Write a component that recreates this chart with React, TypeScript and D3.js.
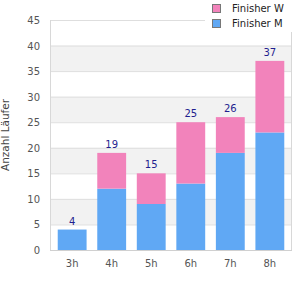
import { useEffect, useRef } from 'react';
import * as d3 from 'd3';

const categories = ['3h', '4h', '5h', '6h', '7h', '8h'];
const finisherM = [4, 12, 9, 13, 19, 23];
const finisherW = [0, 7, 6, 12, 7, 14];
const yTicks = [0, 5, 10, 15, 20, 25, 30, 35, 40, 45];

const colorM = '#60a8f4';
const colorW = '#f283bb';

export default function App() {
  const svgRef = useRef<SVGSVGElement>(null);

  useEffect(() => {
    if (!svgRef.current) return;
    const svg = d3.select(svgRef.current);
    svg.selectAll('*').remove();

    const left = 51, right = 291, top = 20, bottom = 250;
    const font = '"DejaVu Sans", Verdana, sans-serif';

    const x = d3.scaleBand<string>().domain(categories).range([left, right]).paddingInner(0.27).paddingOuter(0.17);
    const y = d3.scaleLinear().domain([0, 45]).range([bottom, top]);

    // alternating bands
    for (let i = 0; i < yTicks.length - 1; i++) {
      if (i % 2 === 1) {
        svg.append('rect')
          .attr('x', left).attr('y', y(yTicks[i + 1]))
          .attr('width', right - left).attr('height', y(yTicks[i]) - y(yTicks[i + 1]))
          .attr('fill', '#f2f2f2');
      }
    }

    // grid lines
    svg.selectAll('line.grid')
      .data(yTicks.slice(1))
      .enter().append('line')
      .attr('x1', left).attr('x2', right)
      .attr('y1', d => y(d) + 0.5).attr('y2', d => y(d) + 0.5)
      .attr('stroke', '#dedede');

    // borders
    svg.append('line').attr('x1', left - 0.5).attr('x2', left - 0.5).attr('y1', top).attr('y2', bottom)
      .attr('stroke', '#d8d8d8');
    svg.append('line').attr('x1', right + 0.5).attr('x2', right + 0.5).attr('y1', top).attr('y2', bottom + 1)
      .attr('stroke', '#d8d8d8');
    svg.append('line').attr('x1', left - 1).attr('x2', right + 1).attr('y1', bottom + 0.5).attr('y2', bottom + 0.5)
      .attr('stroke', '#d0d0d0');

    // stacked bars
    const rows = categories.map((c, i) => ({ cat: c, m: finisherM[i], w: finisherW[i] }));
    const stack = d3.stack<{ cat: string; m: number; w: number }>().keys(['m', 'w'])(rows);
    const colors = [colorM, colorW];
    stack.forEach((layer, li) => {
      svg.selectAll(`rect.layer-${li}`)
        .data(layer)
        .enter().append('rect')
        .attr('x', d => x(d.data.cat)!)
        .attr('width', x.bandwidth())
        .attr('y', d => y(d[1]))
        .attr('height', d => y(d[0]) - y(d[1]))
        .attr('fill', colors[li]);
    });

    // totals
    svg.selectAll('text.total')
      .data(rows)
      .enter().append('text')
      .attr('x', d => x(d.cat)! + x.bandwidth() / 2)
      .attr('y', d => y(d.m + d.w) - 5)
      .attr('text-anchor', 'middle')
      .attr('font-family', font).attr('font-size', 10)
      .attr('fill', '#1f1f8f')
      .text(d => d.m + d.w);

    // y tick labels
    svg.selectAll('text.ytick')
      .data(yTicks)
      .enter().append('text')
      .attr('x', 40).attr('y', d => y(d) + 4)
      .attr('text-anchor', 'end')
      .attr('font-family', font).attr('font-size', 10)
      .attr('fill', '#555')
      .text(d => d);

    // x tick labels
    svg.selectAll('text.xtick')
      .data(categories)
      .enter().append('text')
      .attr('x', d => x(d)! + x.bandwidth() / 2).attr('y', 267)
      .attr('text-anchor', 'middle')
      .attr('font-family', font).attr('font-size', 10)
      .attr('fill', '#555')
      .text(d => d);

    // axis title
    svg.append('text')
      .attr('transform', 'translate(9, 135) rotate(-90)')
      .attr('text-anchor', 'middle')
      .attr('font-family', font).attr('font-size', 10.5)
      .attr('fill', '#444')
      .text('Anzahl Läufer');

    // legend
    svg.append('rect').attr('x', 205).attr('y', 0).attr('width', 95).attr('height', 32).attr('fill', '#fff');
    const legend = [{ name: 'Finisher W', color: colorW }, { name: 'Finisher M', color: colorM }];
    legend.forEach((l, i) => {
      svg.append('rect')
        .attr('x', 212.5).attr('y', 4.5 + i * 15)
        .attr('width', 8).attr('height', 8)
        .attr('fill', l.color).attr('stroke', '#777');
      svg.append('text')
        .attr('x', 232).attr('y', 12 + i * 15)
        .attr('font-family', font).attr('font-size', 10)
        .attr('fill', '#222')
        .text(l.name);
    });
  }, []);

  return (
    <svg ref={svgRef} width={300} height={300}
      style={{ position: 'absolute', left: 0, top: 0, background: '#fff' }} />
  );
}
